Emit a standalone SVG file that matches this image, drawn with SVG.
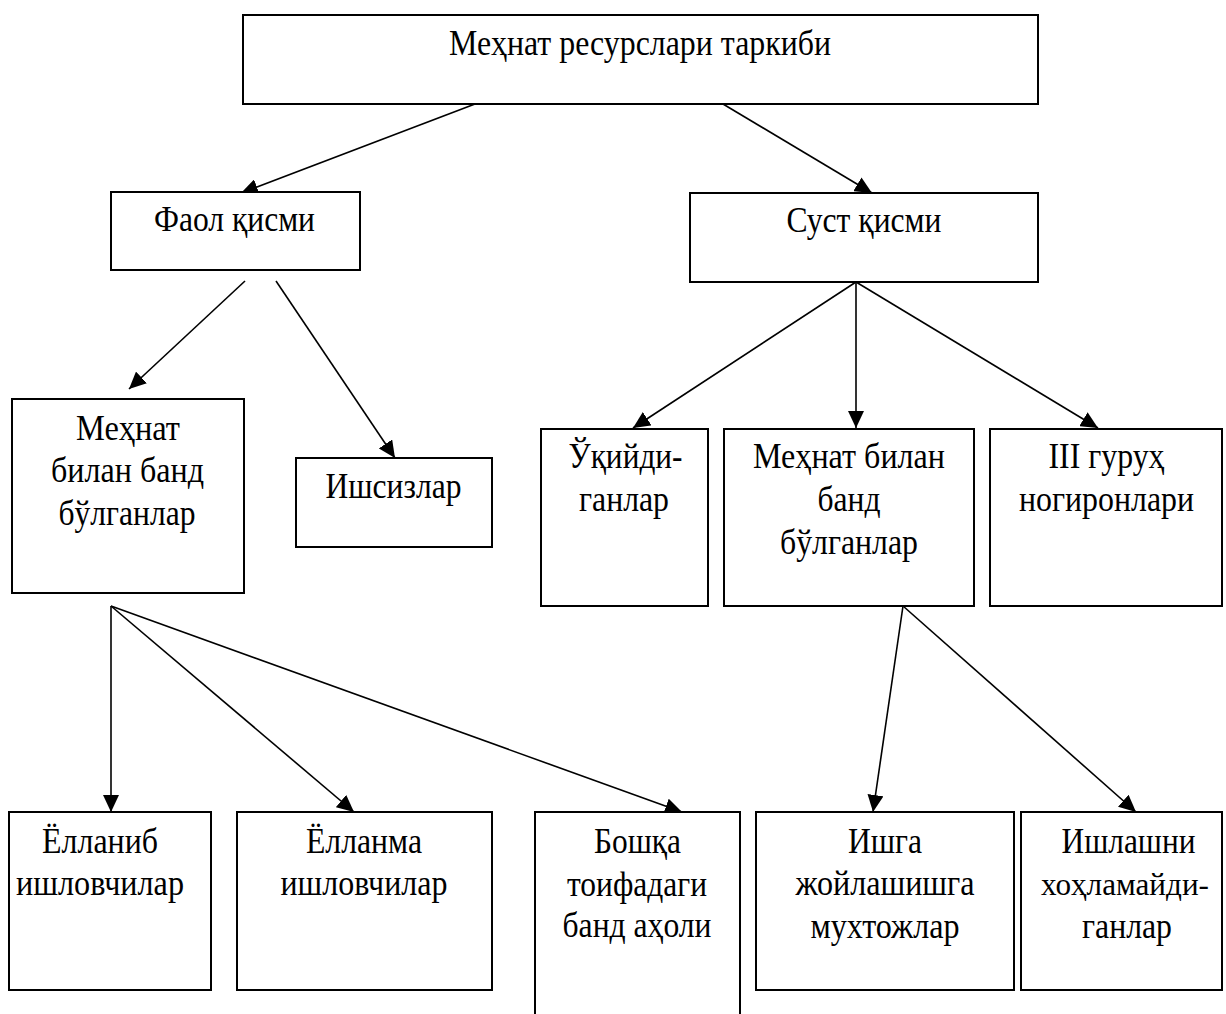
<svg xmlns="http://www.w3.org/2000/svg" width="1226" height="1014" viewBox="0 0 1226 1014">
<style>
.box{fill:#fff;stroke:#000;stroke-width:2}
.t{font-family:"Liberation Serif","Times New Roman",serif;font-size:35px;fill:#000;text-anchor:middle}
.c{stroke:#000;stroke-width:1.6;fill:none;marker-end:url(#ah)}
</style>
<defs>
<marker id="ah" markerUnits="userSpaceOnUse" markerWidth="18" markerHeight="16" refX="17" refY="8" orient="auto" viewBox="0 0 18 16">
<path d="M0,0 L17,8 L0,16 z" fill="#000"/>
</marker>
</defs>
<rect width="1226" height="1014" fill="#fff"/>
<g id="connectors">
<line class="c" x1="475" y1="104" x2="241" y2="193"/>
<line class="c" x1="723" y1="104" x2="872" y2="193"/>
<line class="c" x1="245" y1="281" x2="129" y2="389"/>
<line class="c" x1="276" y1="281" x2="395" y2="458"/>
<line class="c" x1="856" y1="282" x2="633" y2="428"/>
<line class="c" x1="856" y1="282" x2="856" y2="428"/>
<line class="c" x1="856" y1="282" x2="1098" y2="428"/>
<line class="c" x1="111" y1="606" x2="111" y2="812"/>
<line class="c" x1="111" y1="606" x2="354" y2="812"/>
<line class="c" x1="111" y1="606" x2="682" y2="812"/>
<line class="c" x1="903" y1="606" x2="873" y2="812"/>
<line class="c" x1="903" y1="606" x2="1136" y2="812"/>
</g>
<g id="n-root">
<rect class="box" x="243" y="15" width="795" height="89"/>
<text class="t" x="640" y="55" textLength="382" lengthAdjust="spacingAndGlyphs">Меҳнат ресурслари таркиби</text>
</g>
<g id="n-faol">
<rect class="box" x="111" y="192" width="249" height="78"/>
<text class="t" x="234.5" y="231" textLength="161" lengthAdjust="spacingAndGlyphs">Фаол қисми</text>
</g>
<g id="n-sust">
<rect class="box" x="690" y="193" width="348" height="89"/>
<text class="t" x="864" y="232" textLength="155" lengthAdjust="spacingAndGlyphs">Суст қисми</text>
</g>
<g id="n-band1">
<rect class="box" x="12" y="399" width="232" height="194"/>
<text class="t" x="128" y="440" textLength="104" lengthAdjust="spacingAndGlyphs">Меҳнат</text>
<text class="t" x="127.5" y="482" textLength="153" lengthAdjust="spacingAndGlyphs">билан банд</text>
<text class="t" x="127" y="525" textLength="137" lengthAdjust="spacingAndGlyphs">бўлганлар</text>
</g>
<g id="n-ishsiz">
<rect class="box" x="296" y="458" width="196" height="89"/>
<text class="t" x="393.5" y="498" textLength="136" lengthAdjust="spacingAndGlyphs">Ишсизлар</text>
</g>
<g id="n-uqiydi">
<rect class="box" x="541" y="429" width="167" height="177"/>
<text class="t" x="625.5" y="468" textLength="114" lengthAdjust="spacingAndGlyphs">Ўқийди-</text>
<text class="t" x="624" y="511" textLength="90" lengthAdjust="spacingAndGlyphs">ганлар</text>
</g>
<g id="n-band2">
<rect class="box" x="724" y="429" width="250" height="177"/>
<text class="t" x="849" y="468" textLength="192" lengthAdjust="spacingAndGlyphs">Меҳнат билан</text>
<text class="t" x="849" y="511" textLength="63" lengthAdjust="spacingAndGlyphs">банд</text>
<text class="t" x="849" y="554" textLength="138" lengthAdjust="spacingAndGlyphs">бўлганлар</text>
</g>
<g id="n-nogiron">
<rect class="box" x="990" y="429" width="232" height="177"/>
<text class="t" x="1106.5" y="468" textLength="116" lengthAdjust="spacingAndGlyphs">III гуруҳ</text>
<text class="t" x="1106.5" y="511" textLength="175" lengthAdjust="spacingAndGlyphs">ногиронлари</text>
</g>
<g id="n-yollanib">
<rect class="box" x="9" y="812" width="202" height="178"/>
<text class="t" x="100" y="853" textLength="116" lengthAdjust="spacingAndGlyphs">Ёлланиб</text>
<text class="t" x="100" y="895" textLength="168" lengthAdjust="spacingAndGlyphs">ишловчилар</text>
</g>
<g id="n-yollanma">
<rect class="box" x="237" y="812" width="255" height="178"/>
<text class="t" x="364" y="853" textLength="116" lengthAdjust="spacingAndGlyphs">Ёлланма</text>
<text class="t" x="364" y="895" textLength="167" lengthAdjust="spacingAndGlyphs">ишловчилар</text>
</g>
<g id="n-boshqa">
<rect class="box" x="535" y="812" width="205" height="230"/>
<text class="t" x="637.5" y="853" textLength="87" lengthAdjust="spacingAndGlyphs">Бошқа</text>
<text class="t" x="637" y="896" textLength="140" lengthAdjust="spacingAndGlyphs">тоифадаги</text>
<text class="t" x="637" y="937" textLength="149" lengthAdjust="spacingAndGlyphs">банд аҳоли</text>
</g>
<g id="n-ishga">
<rect class="box" x="756" y="812" width="258" height="178"/>
<text class="t" x="885" y="853" textLength="74" lengthAdjust="spacingAndGlyphs">Ишга</text>
<text class="t" x="885" y="895" textLength="179" lengthAdjust="spacingAndGlyphs">жойлашишга</text>
<text class="t" x="885" y="938" textLength="149" lengthAdjust="spacingAndGlyphs">мухтожлар</text>
</g>
<g id="n-ishlashni">
<rect class="box" x="1021" y="812" width="201" height="178"/>
<text class="t" x="1128.5" y="853" textLength="134" lengthAdjust="spacingAndGlyphs">Ишлашни</text>
<text class="t" x="1125" y="895" style="font-size:31px" textLength="168" lengthAdjust="spacingAndGlyphs">хоҳламайди-</text>
<text class="t" x="1127" y="938" textLength="90" lengthAdjust="spacingAndGlyphs">ганлар</text>
</g>
</svg>
